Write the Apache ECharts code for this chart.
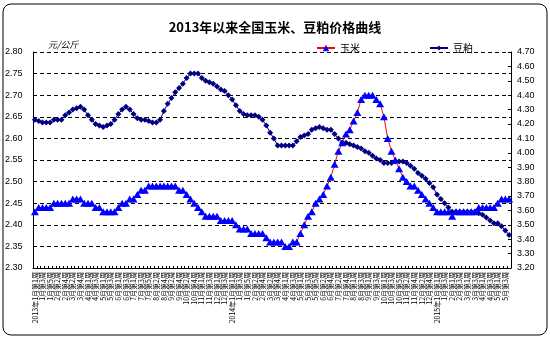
<!DOCTYPE html>
<html>
<head>
<meta charset="utf-8">
<script src="https://cdn.jsdelivr.net/npm/echarts@6/dist/echarts.min.js"></script>
<style>
  html, body { margin: 0; padding: 0; background: #fff; }
  #chart { width: 550px; height: 342px; }
</style>
</head>
<body>
<div id="chart"></div>
<script>
// Weekly national average prices, yuan per kg
const titleText = '2013年以来全国玉米、豆粕价格曲线';
const unitText = '元/公斤';
const cornName = '玉米';
const soymealName = '豆粕';

// Number of reported weeks in each month
const weeks2013 = [5, 4, 5, 4, 4, 4, 5, 4, 4, 5, 4, 4];
const weeks2014 = [5, 4, 5, 4, 5, 4, 5, 4, 4, 5, 4, 5];
const weeks2015 = [4, 4, 4, 4, 4];

const cornPrice = [
  2.43, 2.44, 2.44, 2.44, 2.44, 2.45, 2.45, 2.45, 2.45, 2.45,
  2.46, 2.46, 2.46, 2.45, 2.45, 2.45, 2.44, 2.44, 2.43, 2.43,
  2.43, 2.43, 2.44, 2.45, 2.45, 2.46, 2.46, 2.47, 2.48, 2.48,
  2.49, 2.49, 2.49, 2.49, 2.49, 2.49, 2.49, 2.49, 2.48, 2.48,
  2.47, 2.46, 2.45, 2.44, 2.43, 2.42, 2.42, 2.42, 2.42, 2.41,
  2.41, 2.41, 2.41, 2.40, 2.39, 2.39, 2.39, 2.38, 2.38, 2.38,
  2.38, 2.37, 2.36, 2.36, 2.36, 2.36, 2.35, 2.35, 2.36, 2.36,
  2.38, 2.40, 2.42, 2.43, 2.45, 2.46, 2.47, 2.49, 2.51, 2.54,
  2.57, 2.59, 2.61, 2.62, 2.64, 2.66, 2.69, 2.70, 2.70, 2.70,
  2.69, 2.68, 2.65, 2.60, 2.57, 2.55, 2.53, 2.51, 2.50, 2.49,
  2.49, 2.48, 2.47, 2.46, 2.45, 2.44, 2.43, 2.43, 2.43, 2.43,
  2.42, 2.43, 2.43, 2.43, 2.43, 2.43, 2.43, 2.44, 2.44, 2.44,
  2.44, 2.44, 2.45, 2.46, 2.46, 2.46
];

const soymealPrice = [
  4.23, 4.22, 4.21, 4.21, 4.21, 4.23, 4.23, 4.23, 4.26, 4.28,
  4.30, 4.31, 4.32, 4.30, 4.26, 4.23, 4.20, 4.19, 4.18, 4.19,
  4.20, 4.23, 4.27, 4.30, 4.32, 4.30, 4.27, 4.24, 4.23, 4.23,
  4.22, 4.21, 4.21, 4.23, 4.29, 4.34, 4.38, 4.42, 4.45, 4.48,
  4.52, 4.55, 4.55, 4.55, 4.52, 4.50, 4.49, 4.48, 4.46, 4.44,
  4.43, 4.40, 4.37, 4.33, 4.29, 4.27, 4.26, 4.26, 4.26, 4.25,
  4.23, 4.19, 4.14, 4.10, 4.05, 4.05, 4.05, 4.05, 4.05, 4.08,
  4.11, 4.12, 4.13, 4.16, 4.17, 4.18, 4.17, 4.16, 4.16, 4.13,
  4.10, 4.07, 4.07, 4.06, 4.05, 4.04, 4.03, 4.01, 4.00, 3.98,
  3.96, 3.95, 3.93, 3.93, 3.93, 3.94, 3.94, 3.94, 3.93, 3.91,
  3.89, 3.86, 3.84, 3.82, 3.79, 3.76, 3.71, 3.68, 3.65, 3.62,
  3.59, 3.59, 3.59, 3.59, 3.59, 3.59, 3.59, 3.58, 3.57, 3.55,
  3.53, 3.51, 3.51, 3.49, 3.46, 3.43
];

// Axis ranges
const cornAxis = { min: 2.30, max: 2.80, step: 0.05 };
const soymealAxis = { min: 3.20, max: 4.70, step: 0.10 };

// Week labels such as "2013年1月第1周" / "2月第3周"
function weekLabels(year, counts) {
  const out = [];
  counts.forEach((n, m) => {
    for (let w = 1; w <= n; w++) {
      out.push((m === 0 && w === 1 ? year + '年' : '') + (m + 1) + '月第' + w + '周');
    }
  });
  return out;
}
const categories = [].concat(
  weekLabels(2013, weeks2013),
  weekLabels(2014, weeks2014),
  weekLabels(2015, weeks2015)
);

const cjk = '"SimSun", "Noto Sans CJK SC", sans-serif';
const chart = echarts.init(document.getElementById('chart'), null, { renderer: 'canvas' });

chart.setOption({
  animation: false,
  backgroundColor: '#ffffff',
  textStyle: { fontFamily: cjk, color: '#000' },
  title: {
    text: titleText,
    left: 'center',
    top: 16,
    textStyle: { fontFamily: cjk, fontSize: 13, fontWeight: 'bold', color: '#000' }
  },
  graphic: [
    {
      type: 'rect',
      shape: { x: 3, y: 4, width: 544, height: 331, r: 8 },
      style: { fill: 'none', stroke: '#000', lineWidth: 1 },
      silent: true,
      z: -1
    },
    {
      type: 'text',
      left: 48,
      top: 40,
      style: { text: unitText, font: 'italic 9px ' + cjk, fill: '#000' }
    }
  ],
  legend: [
    {
      data: [cornName],
      left: 311,
      top: 38,
      itemWidth: 18,
      itemHeight: 8,
      textStyle: { fontFamily: cjk, fontSize: 10, color: '#000' }
    },
    {
      data: [soymealName],
      left: 424,
      top: 38,
      itemWidth: 18,
      itemHeight: 6,
      textStyle: { fontFamily: cjk, fontSize: 10, color: '#000' }
    }
  ],
  grid: { left: 33, right: 39, top: 52, bottom: 74, containLabel: false },
  xAxis: {
    type: 'category',
    data: categories,
    boundaryGap: true,
    axisLine: { lineStyle: { color: '#000', width: 1 } },
    axisTick: { show: true, inside: true, length: 2, interval: 0, lineStyle: { color: '#000' } },
    axisLabel: {
      interval: 1,
      rotate: 90,
      fontSize: 7,
      margin: 4,
      color: '#000',
      fontFamily: cjk
    },
    splitLine: { show: false }
  },
  yAxis: [
    {
      type: 'value',
      min: cornAxis.min,
      max: cornAxis.max,
      interval: cornAxis.step,
      position: 'left',
      axisLine: { show: true, lineStyle: { color: '#000' } },
      axisTick: { show: false },
      axisLabel: {
        fontSize: 9,
        color: '#000',
        margin: 11,
        align: 'left',
        padding: [0, 0, 0, -17],
        fontFamily: '"Liberation Sans", sans-serif',
        formatter: v => v.toFixed(2)
      },
      splitLine: { show: true, lineStyle: { color: '#000', type: [4, 3], width: 1 } }
    },
    {
      type: 'value',
      min: soymealAxis.min,
      max: soymealAxis.max,
      interval: soymealAxis.step,
      position: 'right',
      axisLine: { show: true, lineStyle: { color: '#000' } },
      axisTick: { show: true, inside: true, length: 3, lineStyle: { color: '#000' } },
      axisLabel: {
        fontSize: 9,
        color: '#000',
        margin: 6,
        fontFamily: '"Liberation Sans", sans-serif',
        formatter: v => v.toFixed(2)
      },
      splitLine: { show: false }
    }
  ],
  series: [
    {
      name: cornName,
      type: 'line',
      yAxisIndex: 0,
      data: cornPrice,
      symbol: 'triangle',
      symbolSize: [8, 7],
      showAllSymbol: true,
      lineStyle: { color: '#ff0000', width: 1 },
      itemStyle: { color: '#0000ff' },
      z: 3
    },
    {
      name: soymealName,
      type: 'line',
      yAxisIndex: 1,
      data: soymealPrice,
      symbol: 'diamond',
      symbolSize: 6,
      showAllSymbol: true,
      lineStyle: { color: '#000080', width: 1 },
      itemStyle: { color: '#000080' },
      z: 2
    }
  ]
});
</script>
</body>
</html>
